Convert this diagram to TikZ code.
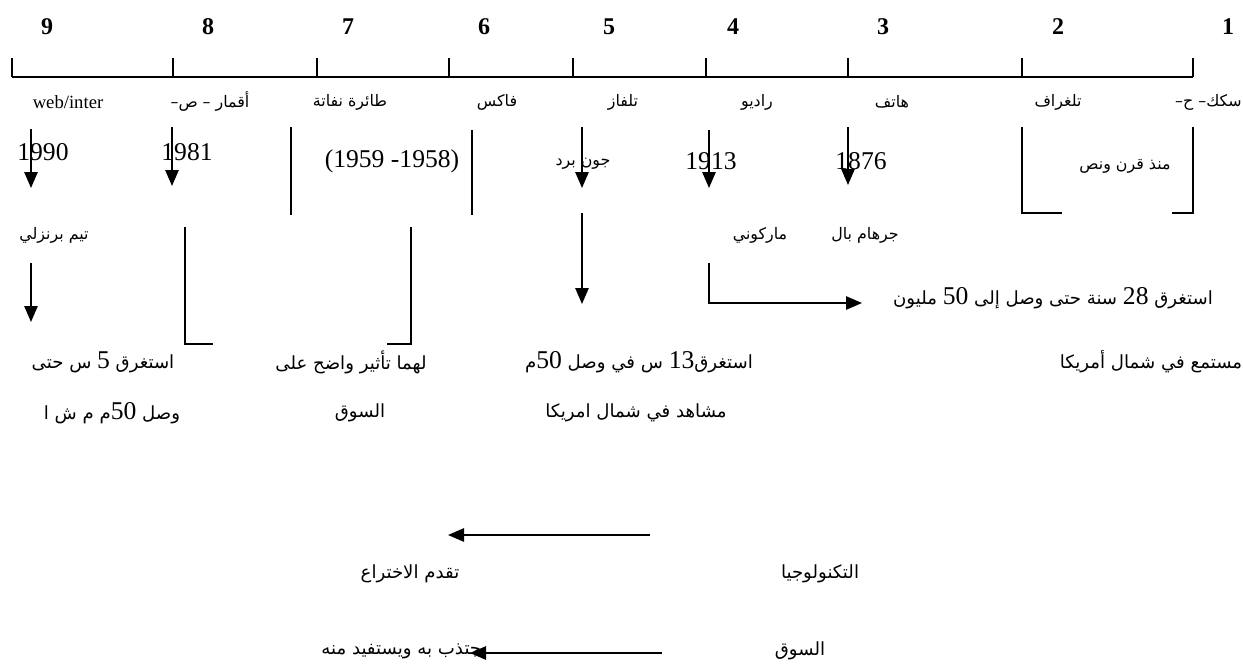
\documentclass[tikz,border=0pt]{standalone}
\usepackage{fontspec}
\setmainfont{Liberation Serif}
\newfontfamily\arfont[Script=Arabic,Scale=0.85]{DejaVu Sans}
\newfontfamily\numfont[Scale=1.2]{Liberation Serif}
\TeXXeTstate=1
\usetikzlibrary{arrows.meta}
\newcommand\AR[1]{{\arfont\beginR #1\endR}}
\newcommand\NM[1]{{\numfont #1}}
\begin{document}
\begin{tikzpicture}[x=0.75pt,y=-0.75pt,
  lbl/.style={inner sep=0pt,font=\fontsize{14}{16}\selectfont},
  mid/.style={inner sep=0pt,font=\fontsize{14}{16}\selectfont},
  big/.style={inner sep=0pt,font=\fontsize{16}{19}\selectfont},
  yr/.style={inner sep=0pt,font=\fontsize{16}{19}\selectfont\numfont},
  num/.style={inner sep=0pt,font=\fontsize{18}{21}\selectfont\bfseries},
  ln/.style={line width=1.3pt},
  arr/.style={line width=1.3pt,-{Triangle[length=12pt,width=10pt]}}]
\useasboundingbox (0,0) rectangle (1243,668);

% timeline
\coordinate (L0) at (12,77);
\coordinate (L1) at (1193,77);
\draw[ln] (L0) -- (L1);
\foreach \i/\x in {a/12,b/173,c/317,d/449,e/573,f/706,g/848,h/1022,i/1193}{
  \coordinate (t\i s) at (\x,58);
  \coordinate (t\i e) at (\x,77);
  \draw[ln] (t\i s) -- (t\i e);
}

% top numbers
\node[num] (n9) at (47,27) {9};
\node[num] (n8) at (208,27) {8};
\node[num] (n7) at (348,27) {7};
\node[num] (n6) at (484,27) {6};
\node[num] (n5) at (609,27) {5};
\node[num] (n4) at (733,27) {4};
\node[num] (n3) at (883,27) {3};
\node[num] (n2) at (1058,27) {2};
\node[num] (n1) at (1228,27) {1};

% names under the line
\node[lbl] (w9) at (68,102) {web/inter};
\node[lbl] (w8) at (210,102) {\AR{أقمار – ص–}};
\node[lbl] (w7) at (350,102) {\AR{طائرة نفاتة}};
\node[lbl] (w6) at (497,102) {\AR{فاكس}};
\node[lbl] (w5) at (623,102) {\AR{تلفاز}};
\node[lbl] (w4) at (757,102) {\AR{راديو}};
\node[lbl] (w3) at (892,102) {\AR{هاتف}};
\node[lbl] (w2) at (1058,102) {\AR{تلغراف}};
\node[lbl,anchor=east] (w1) at (1242,102) {\AR{سكك– ح–}};

% years
\node[yr] (y9) at (43,152) {1990};
\node[yr] (y8) at (187,152) {1981};
\node[yr] (y7) at (392,161) {(1959 -1958)};
\node[mid] (y5) at (583,164) {\AR{جون برد}};
\node[yr] (y4) at (711,161) {1913};
\node[yr] (y3) at (861,161) {1876};
\node[mid] (y1) at (1125,166) {\AR{منذ قرن ونص}};

% arrows and lines of row 2
\coordinate (a9s) at (31,129); \coordinate (a9e) at (31,188);
\draw[arr] (a9s) -- (a9e);
\coordinate (a8s) at (172,127); \coordinate (a8e) at (172,186);
\draw[arr] (a8s) -- (a8e);
\coordinate (v7s) at (291,127); \coordinate (v7e) at (291,215);
\draw[ln] (v7s) -- (v7e);
\coordinate (v6s) at (472,130); \coordinate (v6e) at (472,215);
\draw[ln] (v6s) -- (v6e);
\coordinate (a5s) at (582,127); \coordinate (a5e) at (582,188);
\draw[arr] (a5s) -- (a5e);
\coordinate (a4s) at (709,130); \coordinate (a4e) at (709,188);
\draw[arr] (a4s) -- (a4e);
\coordinate (a3s) at (848,127); \coordinate (a3e) at (848,185);
\draw[arr] (a3s) -- (a3e);
\coordinate (b1a) at (1022,127); \coordinate (b1b) at (1022,213); \coordinate (b1c) at (1062,213);
\draw[ln] (b1a) -- (b1b) -- (b1c);
\coordinate (b2a) at (1193,127); \coordinate (b2b) at (1193,213); \coordinate (b2c) at (1172,213);
\draw[ln] (b2a) -- (b2b) -- (b2c);

% row 3
\node[lbl] (p9) at (54,235) {\AR{تيم برنزلي}};
\node[lbl] (p4) at (760,235) {\AR{ماركوني}};
\node[lbl] (p3) at (865,235) {\AR{جرهام بال}};

\coordinate (c8a) at (185,227); \coordinate (c8b) at (185,344); \coordinate (c8c) at (213,344);
\draw[ln] (c8a) -- (c8b) -- (c8c);
\coordinate (c7a) at (411,227); \coordinate (c7b) at (411,344); \coordinate (c7c) at (387,344);
\draw[ln] (c7a) -- (c7b) -- (c7c);
\coordinate (d5s) at (582,213); \coordinate (d5e) at (582,304);
\draw[arr] (d5s) -- (d5e);
\coordinate (d9s) at (31,263); \coordinate (d9e) at (31,322);
\draw[arr] (d9s) -- (d9e);
\coordinate (d4a) at (709,263); \coordinate (d4b) at (709,303); \coordinate (d4c) at (862,303);
\draw[arr] (d4a) -- (d4b) -- (d4c);

% row 4
\node[big] (r4) at (1053,298) {\AR{استغرق \NM{28} سنة حتى وصل إلى \NM{50} مليون}};

% row 5
\node[big] (s9) at (103,362) {\AR{استغرق \NM{5} س حتى}};
\node[big] (s7) at (351,362) {\AR{لهما تأثير واضح على}};
\node[big] (s5) at (639,362) {\AR{استغرق\NM{13} س في وصل \NM{50}م}};
\node[big] (s3) at (1151,362) {\AR{مستمع في شمال أمريكا}};

% row 6
\node[big] (u9) at (112,413) {\AR{وصل \NM{50}م م ش ا}};
\node[big] (u7) at (360,413) {\AR{السوق}};
\node[big] (u5) at (636,413) {\AR{مشاهد في شمال امريكا}};

% bottom
\node[big] (tk) at (820,574) {\AR{التكنولوجيا}};
\node[big] (tq) at (410,574) {\AR{تقدم الاختراع}};
\coordinate (e1s) at (650,535); \coordinate (e1e) at (448,535);
\draw[arr] (e1s) -- (e1e);
\node[big] (sq) at (800,651) {\AR{السوق}};
\node[big,anchor=east] (yj) at (487,651) {\AR{يجتذب به ويستفيد منه}};
\coordinate (e2s) at (662,653); \coordinate (e2e) at (470,653);
\draw[arr] (e2s) -- (e2e);
\end{tikzpicture}
\end{document}
